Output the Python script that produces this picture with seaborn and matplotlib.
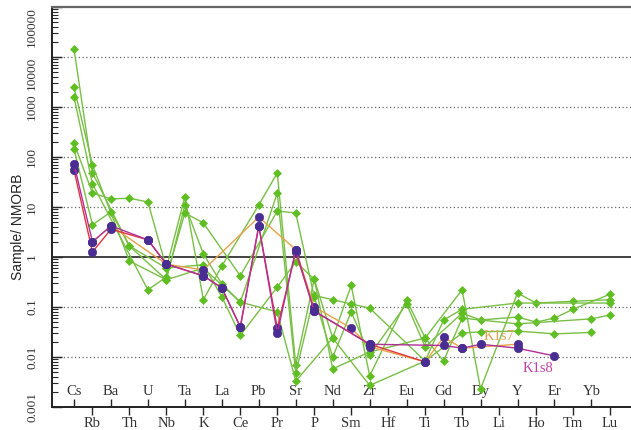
import numpy as np
import pandas as pd
import matplotlib
matplotlib.use("Agg")
import matplotlib.pyplot as plt
import seaborn as sns

nan = np.nan
elements = ["Cs", "Rb", "Ba", "Th", "U", "Nb", "Ta", "K", "La", "Ce", "Pb", "Pr", "Sr", "P", "Nd",
            "Sm", "Zr", "Hf", "Eu", "Ti", "Gd", "Tb", "Dy", "Li", "Y", "Ho", "Er", "Tm", "Yb", "Lu"]

# green samples
g1 = [14500, 48, nan, 1.66, nan, 0.6, 16, 0.14, 0.66, nan, 11, 48, 0.0069, 0.36, 0.024,
      0.27, 0.0042, nan, 0.138, 0.024, nan, 0.22, 0.0023, nan, 0.19, 0.12, nan, 0.13, nan, 0.14]
g2 = [2500, 69, nan, 0.83, nan, 0.35, 11, 1.15, 0.29, 0.125, nan, 19, 0.0048, 0.17, 0.14,
      0.115, 0.095, nan, nan, 0.0083, 0.055, 0.09, nan, nan, 0.12, nan, nan, nan, nan, 0.12]
g3 = [1585, 29, nan, nan, 0.22, 0.4, 7.6, 4.8, nan, 0.42, nan, 8.3, 7.6, 0.16, 0.01,
      0.08, 0.011, nan, 0.115, 0.016, nan, 0.075, 0.055, nan, 0.063, 0.05, 0.06, 0.09, nan, 0.18]
g4 = [190, 19, 14.5, 15, 12.6, 0.6, nan, 0.7, 0.16, 0.027, nan, 0.25, 0.8, 0.36, 0.0058,
      nan, 0.0126, nan, nan, 0.024, 0.0083, 0.06, nan, nan, 0.046, nan, nan, nan, 0.058, 0.069]
g5 = [145, 4.4, 8, 1.66, nan, 0.35, nan, 0.6, nan, 0.125, nan, 0.08, 0.0033, nan, 0.024,
      nan, 0.0027, nan, nan, 0.0083, nan, 0.03, 0.032, nan, 0.033, nan, 0.029, nan, 0.031, nan]
green_series = [g1, g2, g3, g4, g5]

# purple-marker samples
red_s = [55, 1.26, 3.6, nan, 2.2, 0.72, nan, 0.42, 0.24, 0.04, 4.2, 0.038, 1.26, 0.083, nan,
         nan, 0.018, nan, nan, 0.008, nan, nan, nan, nan, nan, nan, nan, nan, nan, nan]
k1s8 = [72, 2.0, 4.2, nan, 2.2, 0.72, nan, 0.42, 0.24, 0.04, 4.2, 0.03, 1.4, 0.083, nan,
        nan, 0.018, nan, nan, nan, 0.017, 0.015, 0.018, nan, 0.015, nan, 0.0105, nan, nan, nan]
k1s7 = [nan, 2.0, 4.2, nan, nan, 0.72, nan, 0.55, nan, nan, 6.3, nan, 1.4, 0.1, nan,
        0.038, 0.016, nan, nan, 0.008, 0.025, 0.015, nan, nan, 0.018, nan, nan, nan, nan, nan]

label_k1s7 = "K1s7"
label_k1s8 = "K1s8"
yticks = [0.001, 0.01, 0.1, 1, 10, 100, 1000, 10000, 100000]
ytick_labels = ["0.001", "0.01", "0.1", "1", "10", "100", "1000", "10000", "100000"]

sns.set_style("white")
plt.rcParams["font.family"] = ["Liberation Serif", "DejaVu Serif"]

fig = plt.figure(figsize=(6.31, 4.30), dpi=100)
ax = fig.add_axes([52 / 631, 23 / 430, 1 - 52 / 631, 400 / 430])
ax.set_yscale("log")

x = np.arange(len(elements))


def draw(vals, line_color, marker, mface, ms, lw=1.0):
    df = pd.DataFrame({"x": x, "y": vals}).dropna()
    sns.lineplot(data=df, x="x", y="y", ax=ax, color=line_color, lw=lw, marker=marker,
                 markersize=ms, markerfacecolor=mface, markeredgecolor=mface,
                 markeredgewidth=0.5, estimator=None, sort=False, errorbar=None)


gline = "#79bf45"
gmark = "#5fbf22"
for s in green_series:
    draw(s, gline, "D", gmark, 4.0)

purple = "#4a2d92"
draw(k1s7, "#e9a24a", "o", purple, 6)
draw(red_s, "#e2343e", "o", purple, 6)
draw(k1s8, "#b03098", "o", purple, 6)

ax.set_xlim((52 - 74) / 18.48, (631 - 74) / 18.48)
ax.set_ylim(0.001, 100000)

# y axis
ax.set_yticks(yticks)
ax.set_yticklabels(ytick_labels, rotation=90, va="center", fontsize=9.5, color="#333333")
for lbl in ax.get_yticklabels()[-2:]:
    lbl.set_va("top")
ax.yaxis.set_minor_locator(matplotlib.ticker.LogLocator(base=10, subs=np.arange(2, 10), numticks=20))
ax.yaxis.set_minor_formatter(matplotlib.ticker.NullFormatter())
ax.tick_params(axis="y", which="major", direction="in", length=7, width=1, pad=10, left=True)
ax.tick_params(axis="y", which="minor", direction="in", length=4, width=0.8, left=True)
ax.set_ylabel("Sample/ NMORB", family=["Liberation Sans", "DejaVu Sans"], fontsize=10, color="#222222")
ax.yaxis.set_label_coords(-0.046, 0.45)

# x axis: odd labels below (outward ticks), even labels inside (inward ticks)
odd = x[1::2]
even = x[0::2]
ax.set_xticks(odd)
ax.set_xticklabels([elements[i] for i in odd], fontsize=10.5, color="#333333")
ax.set_xticks(even, minor=True)
ax.set_xticklabels([elements[i] for i in even], minor=True, fontsize=10.5, color="#333333")
ax.tick_params(axis="x", which="major", direction="out", length=6, width=1, pad=1, bottom=True)
ax.tick_params(axis="x", which="minor", direction="in", length=6, width=1, pad=-15.5, bottom=True)
ax.set_xlabel("")

# grid lines
for v in [0.01, 0.1, 10, 100, 1000, 10000]:
    ax.axhline(v, color="#666666", lw=0.9, ls=(0, (1, 2)), zorder=0)
ax.axhline(1, color="#222222", lw=1.2, zorder=0.5)

for side in ["left", "bottom"]:
    ax.spines[side].set_color("#222222")
    ax.spines[side].set_linewidth(1.4)
ax.spines["top"].set_color("#666666")
ax.spines["top"].set_linewidth(1.6)
ax.spines["right"].set_visible(False)

ax.text(23.0, 0.026, label_k1s7, color="#e0a050", fontsize=10.5, ha="center", va="center", zorder=5)
ax.text(25.1, 0.006, label_k1s8, color="#c040a8", fontsize=10.5, ha="center", va="center", zorder=5)

fig.savefig("out.png", dpi=100)
